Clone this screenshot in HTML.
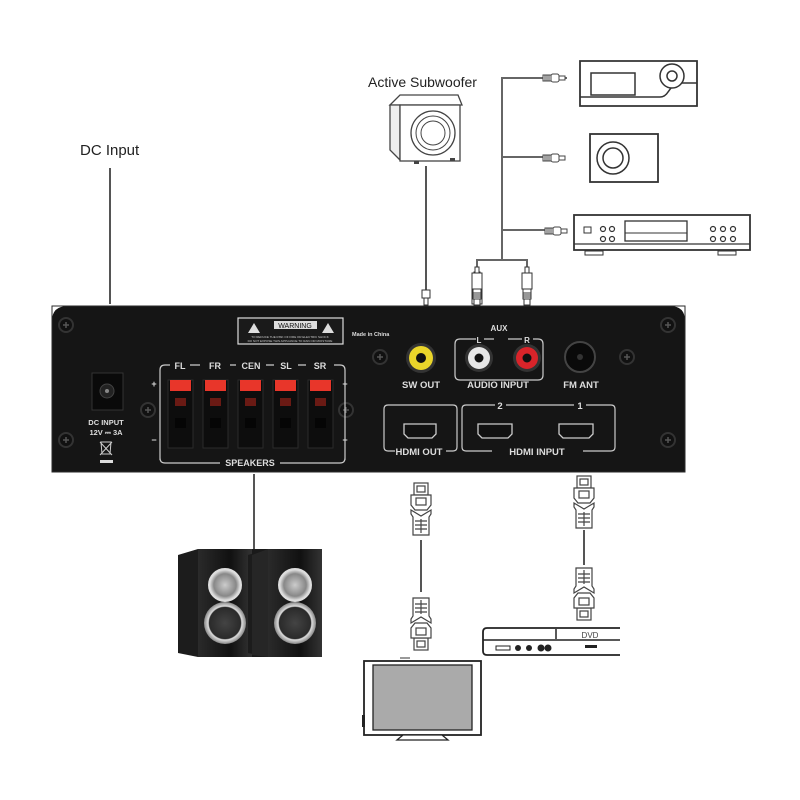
<!DOCTYPE html>
<html><head><meta charset="utf-8"><style>
html,body{margin:0;padding:0;background:#fff;}
svg{display:block;}
text{font-family:"Liberation Sans",sans-serif;}
</style></head><body>
<svg width="800" height="800" viewBox="0 0 800 800" xmlns="http://www.w3.org/2000/svg">
<defs>
<radialGradient id="tw" cx="50%" cy="50%" r="50%"><stop offset="0" stop-color="#ccc"/><stop offset="0.7" stop-color="#888"/><stop offset="1" stop-color="#eee"/></radialGradient>
<radialGradient id="wf" cx="50%" cy="50%" r="50%"><stop offset="0" stop-color="#444"/><stop offset="0.75" stop-color="#2a2a2a"/><stop offset="0.8" stop-color="#ddd"/><stop offset="1" stop-color="#888"/></radialGradient>
<linearGradient id="sp" x1="0" x2="1"><stop offset="0" stop-color="#2a2a2a"/><stop offset="0.6" stop-color="#111"/><stop offset="1" stop-color="#333"/></linearGradient>
<g id="rca"><rect x="-3" y="0" width="6" height="6" fill="#fff" stroke="#333"/><rect x="-4" y="6" width="8" height="10" fill="#fff" stroke="#333"/><path d="M-4 8h8M-4 10h8M-4 12h8" stroke="#333"/><rect x="-5" y="16" width="10" height="16" fill="#fff" stroke="#333"/><rect x="-2" y="32" width="4" height="6" fill="#fff" stroke="#333"/></g>
<g id="rcah"><rect x="0" y="-3" width="8" height="6" fill="#fff" stroke="#444"/><path d="M2 -3v6M4 -3v6M6 -3v6" stroke="#444"/><rect x="8" y="-4" width="8" height="8" rx="2" fill="#fff" stroke="#444"/><rect x="16" y="-2" width="6" height="4" fill="#fff" stroke="#444"/></g>
<g id="hdmi" fill="#fff" stroke="#444" stroke-width="1.2"><rect x="-7" y="0" width="14" height="12"/><rect x="-4" y="3" width="8" height="6" fill="none"/><path d="M-10 12h20v10l-4 5h-12l-4-5z"/><rect x="-5" y="15" width="10" height="7" fill="none"/><path d="M-10 27l10 6 10-6v4l-2 3v18h-16v-18l-2-3z"/><path d="M-6 38h12M-6 42h12M-6 46h12M0 36v14"/></g>
<g id="screw"><circle r="7" fill="#111" stroke="#333" stroke-width="2"/><path d="M-3 0h6M0 -3v6" stroke="#555" stroke-width="1.5"/></g>
</defs>

<!-- top labels and lines -->
<text x="80" y="155" font-size="15" fill="#222">DC Input</text>
<line x1="110" y1="168" x2="110" y2="304" stroke="#555" stroke-width="2"/>
<text x="368" y="87" font-size="14" fill="#222">Active Subwoofer</text>
<!-- subwoofer -->
<path d="M390 105l10-10h58l4 10z" fill="#fff" stroke="#444" stroke-width="1.3"/>
<path d="M390 105v45l10 10v-55z" fill="#eee" stroke="#444" stroke-width="1.3"/>
<rect x="400" y="105" width="60" height="56" fill="#fff" stroke="#444" stroke-width="1.3"/>
<circle cx="433" cy="133" r="22" fill="#fff" stroke="#444" stroke-width="1.3"/>
<circle cx="433" cy="133" r="17" fill="#fff" stroke="#444"/>
<circle cx="433" cy="133" r="12" fill="#fff" stroke="#444"/>
<rect x="414" y="161" width="5" height="3" fill="#444"/><rect x="450" y="158" width="5" height="3" fill="#444"/>
<line x1="426" y1="166" x2="426" y2="290" stroke="#555" stroke-width="2"/>
<rect x="422" y="290" width="8" height="8" fill="#fff" stroke="#333"/><rect x="424" y="298" width="4" height="7" fill="#fff" stroke="#333"/>
<!-- cable tree -->
<path d="M567 78H502V260M502 157H545M502 230H545M477 275V260H527V275" fill="none" stroke="#666" stroke-width="2"/>
<use href="#rcah" x="543" y="78"/><use href="#rcah" x="543" y="158"/><use href="#rcah" x="545" y="231"/>
<use href="#rca" x="477" y="272" transform="rotate(0)"/>
<g transform="translate(477,305) scale(1,-1)"><use href="#rca"/></g>
<g transform="translate(527,305) scale(1,-1)"><use href="#rca"/></g>
<!-- devices -->
<path d="M580 61h117v45h-117z" fill="#fff" stroke="#333" stroke-width="1.8"/>
<path d="M580 97h80q5 0 8-5l3-4q3-5 8-5h18" fill="none" stroke="#333" stroke-width="1.5"/>
<rect x="591" y="73" width="44" height="22" fill="#fff" stroke="#333" stroke-width="1.5"/>
<circle cx="672" cy="76" r="12" fill="#fff" stroke="#333" stroke-width="1.5"/><circle cx="672" cy="76" r="5" fill="#fff" stroke="#333" stroke-width="1.5"/>
<rect x="590" y="134" width="68" height="48" fill="#fff" stroke="#333" stroke-width="1.8"/>
<circle cx="613" cy="158" r="16" fill="#fff" stroke="#333" stroke-width="1.5"/><circle cx="613" cy="158" r="10" fill="#fff" stroke="#333" stroke-width="1.5"/>
<rect x="574" y="215" width="176" height="35" fill="#fff" stroke="#333" stroke-width="1.8"/>
<line x1="574" y1="244" x2="750" y2="244" stroke="#333" stroke-width="1.3"/>
<rect x="585" y="251" width="18" height="4" fill="#fff" stroke="#333"/><rect x="718" y="251" width="18" height="4" fill="#fff" stroke="#333"/>
<rect x="584" y="227" width="7" height="6" fill="#fff" stroke="#333"/>
<g fill="#fff" stroke="#333" stroke-width="1.2"><circle cx="603" cy="229" r="2.5"/><circle cx="612" cy="229" r="2.5"/><circle cx="603" cy="239" r="2.5"/><circle cx="612" cy="239" r="2.5"/>
<circle cx="713" cy="229" r="2.5"/><circle cx="723" cy="229" r="2.5"/><circle cx="733" cy="229" r="2.5"/><circle cx="713" cy="239" r="2.5"/><circle cx="723" cy="239" r="2.5"/><circle cx="733" cy="239" r="2.5"/></g>
<rect x="625" y="221" width="62" height="20" fill="#fff" stroke="#333" stroke-width="1.3"/><line x1="625" y1="233" x2="687" y2="233" stroke="#333"/>

<!-- panel -->
<path d="M68 306H670Q685 306 685 321V472H52V321Q52 306 68 306Z" fill="#151515"/>
<rect x="52" y="306" width="633" height="166" fill="none" stroke="#2a2a2a"/>
<use href="#screw" x="66" y="325"/><use href="#screw" x="66" y="440"/><use href="#screw" x="668" y="325"/><use href="#screw" x="668" y="440"/><use href="#screw" x="380" y="357"/><use href="#screw" x="627" y="357"/>
<use href="#screw" x="148" y="410"/><use href="#screw" x="346" y="410"/>
<!-- DC -->
<rect x="92" y="373" width="31" height="37" fill="#0a0a0a" stroke="#333"/>
<circle cx="107" cy="391" r="7" fill="#222" stroke="#444"/><circle cx="107" cy="391" r="2" fill="#888"/>
<text x="106" y="425" font-size="7.5" fill="#ddd" text-anchor="middle" font-weight="bold">DC INPUT</text>
<text x="106" y="435" font-size="7.5" fill="#ddd" text-anchor="middle" font-weight="bold">12V ⎓ 3A</text>
<path d="M101 442h10l-1 12h-8zM100 442l12 13M112 442l-12 13" fill="none" stroke="#ccc" stroke-width="1"/>
<rect x="100" y="460" width="13" height="3" fill="#ddd"/>
<!-- warning -->
<rect x="238" y="318" width="105" height="26" fill="#1a1a1a" stroke="#ddd" stroke-width="1.2"/>
<rect x="274" y="321" width="43" height="8" fill="#ddd"/>
<text x="295" y="328" font-size="7" text-anchor="middle" fill="#111">WARNING</text>
<path d="M248 333l6-10 6 10z" fill="#ddd"/><path d="M322 333l6-10 6 10z" fill="#ddd"/>
<text x="290" y="338" font-size="3" fill="#ccc" text-anchor="middle">TO REDUCE THE RISK OF FIRE OR ELECTRIC SHOCK</text>
<text x="290" y="342" font-size="3" fill="#ccc" text-anchor="middle">DO NOT EXPOSE THIS APPLIANCE TO RAIN OR MOISTURE</text>
<text x="352" y="336" font-size="5.5" fill="#ddd" font-weight="bold">Made in China</text>
<!-- speakers -->
<path d="M160 460v-90q0-5 5-5h5M190 365h10M230 365h6M266 365h8M298 365h8M334 365h6q5 0 5 5v90M160 458q0 5 5 5h55M280 463h60q5 0 5-5" fill="none" stroke="#ccc" stroke-width="1.2"/>
<g font-size="9" fill="#ddd" font-weight="bold" text-anchor="middle"><text x="180" y="369">FL</text><text x="215" y="369">FR</text><text x="251" y="369">CEN</text><text x="286" y="369">SL</text><text x="320" y="369">SR</text><text x="250" y="466">SPEAKERS</text><text x="154" y="387">+</text><text x="345" y="387">+</text><text x="154" y="443">−</text><text x="345" y="443">−</text></g>
<g id="term"><rect x="168" y="380" width="25" height="68" fill="#0d0d0d" stroke="#2a2a2a"/><rect x="170" y="380" width="21" height="11" fill="#e8362a"/><rect x="175" y="398" width="11" height="8" fill="#6a1a14"/><rect x="175" y="418" width="11" height="10" fill="#050505"/></g>
<use href="#term" x="35"/><use href="#term" x="70"/><use href="#term" x="105"/><use href="#term" x="140"/>
<!-- RCA jacks -->
<circle cx="421" cy="358" r="15" fill="#333"/><circle cx="421" cy="358" r="12" fill="#ead52a"/><circle cx="421" cy="358" r="5" fill="#111"/>
<path d="M460 339q-5 0-5 5v31q0 5 5 5h78q5 0 5-5v-31q0-5-5-5h-5M522 339h-14M494 339h-10M476 339h-16" fill="none" stroke="#ccc" stroke-width="1.2"/>
<g font-size="8" fill="#ddd" font-weight="bold" text-anchor="middle"><text x="499" y="331">AUX</text><text x="479" y="343">L</text><text x="527" y="343">R</text></g>
<circle cx="479" cy="358" r="14" fill="#333"/><circle cx="479" cy="358" r="11" fill="#e6e6e6"/><circle cx="479" cy="358" r="4.5" fill="#111"/>
<circle cx="527" cy="358" r="14" fill="#333"/><circle cx="527" cy="358" r="11" fill="#d9242a"/><circle cx="527" cy="358" r="4.5" fill="#111"/>
<circle cx="580" cy="357" r="15" fill="#0a0a0a" stroke="#444" stroke-width="2"/><circle cx="580" cy="357" r="3" fill="#333"/>
<g font-size="9.5" fill="#ddd" font-weight="bold" text-anchor="middle"><text x="421" y="388">SW OUT</text><text x="498" y="388">AUDIO INPUT</text><text x="581" y="388">FM ANT</text>
<text x="419" y="455">HDMI OUT</text><text x="537" y="455">HDMI INPUT</text><text x="500" y="409">2</text><text x="580" y="409">1</text></g>
<!-- HDMI boxes -->
<path d="M395 451h-7q-4 0-4-4v-38q0-4 4-4h65q4 0 4 4v38q0 4-4 4h-7" fill="none" stroke="#ccc" stroke-width="1.2"/>
<path d="M492 451h-26q-4 0-4-4v-38q0-4 4-4h29M506 405h68M586 405h25q4 0 4 4v38q0 4-4 4h-28" fill="none" stroke="#ccc" stroke-width="1.2"/>
<g fill="#111" stroke="#ccc" stroke-width="1.3"><path d="M404 424h32v10l-4 4h-24l-4-4z"/><path d="M478 424h34v10l-4 4h-26l-4-4z"/><path d="M559 424h34v10l-4 4h-26l-4-4z"/></g>

<!-- below -->
<line x1="254" y1="474" x2="254" y2="549" stroke="#555" stroke-width="2"/>
<g id="spk"><path d="M178 555l20-6v108l-20-4z" fill="#1c1c1c"/><rect x="198" y="549" width="54" height="108" fill="url(#sp)"/>
<circle cx="225" cy="585" r="16" fill="url(#tw)" stroke="#ddd" stroke-width="2"/><circle cx="225" cy="623" r="21" fill="url(#wf)"/></g>
<use href="#spk" x="70"/>
<rect x="252" y="549" width="16" height="108" fill="#1a1a1a"/><path d="M252 555l16-6v108l-16-2z" fill="#262626"/>
<line x1="421" y1="540" x2="421" y2="592" stroke="#555" stroke-width="2"/>
<use href="#hdmi" x="421" y="483"/>
<g transform="translate(421,650) scale(1,-1)"><use href="#hdmi"/></g>
<line x1="584" y1="530" x2="584" y2="565" stroke="#555" stroke-width="2"/>
<use href="#hdmi" x="584" y="476"/>
<g transform="translate(584,620) scale(1,-1)"><use href="#hdmi"/></g>
<!-- TV -->
<rect x="400" y="657" width="10" height="2" fill="#999"/>
<rect x="364" y="661" width="117" height="74" fill="#fff" stroke="#222" stroke-width="1.8"/>
<rect x="373" y="665" width="99" height="65" fill="#aaa" stroke="#222" stroke-width="1.3"/>
<path d="M397 740l6-5h39l6 5z" fill="#fff" stroke="#222" stroke-width="1.3"/>
<rect x="362" y="715" width="3" height="12" fill="#222"/>
<!-- DVD -->
<path d="M620 628H487q-4 0-4 4v19q0 4 4 4h133" fill="#fff" stroke="#222" stroke-width="1.8"/>
<path d="M483 640H620M556 629v10" fill="none" stroke="#222" stroke-width="1.5"/>
<text x="590" y="638" font-size="8" fill="#444" text-anchor="middle">DVD</text>
<rect x="496" y="646" width="14" height="4" fill="#fff" stroke="#222"/>
<g fill="#222"><circle cx="518" cy="648" r="3"/><circle cx="529" cy="648" r="3"/><circle cx="541" cy="648" r="3.5"/><circle cx="548" cy="648" r="3.5"/><rect x="585" y="645" width="12" height="3"/></g>
</svg>
</body></html>
